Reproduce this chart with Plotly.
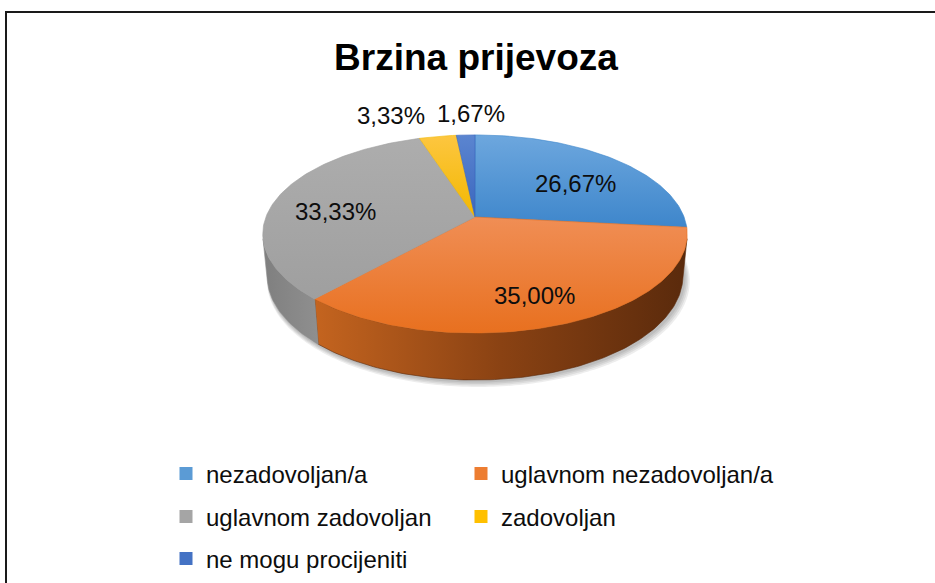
import math
import numpy as np
import plotly.graph_objects as go

# Survey answers and their shares (%)
categories = ["nezadovoljan/a", "uglavnom nezadovoljan/a", "uglavnom zadovoljan",
              "zadovoljan", "ne mogu procijeniti"]
shares = [26.67, 35.00, 33.33, 3.33, 1.67]

# Colours per slice: top face (upper -> lower), side face (left -> right), legend swatch
top_colors = [("#6DA7DE", "#3E86CB"), ("#F08E55", "#E8701F"), ("#ADADAD", "#9F9F9F"),
              ("#FDC640", "#F2B800"), ("#5B85D0", "#3A66BE")]
side_colors = [("#3B78B5", "#24527F"), ("#C4641F", "#8A4213", "#5A2A0C"),
               ("#7F7F7F", "#8F8F8F"), ("#C89400", "#7F5E00"), ("#2F559C", "#1F3A6E")]
legend_colors = ["#5B9BD5", "#ED7D31", "#A5A5A5", "#FFC000", "#4472C4"]

W, H = 935, 583
FONT = "Liberation Sans, Arial, sans-serif"

# Perspective geometry of the 3-D pie (pixels and radius units)
CX, APEX_Y = 475.0, 217.0
ELEV = math.asin(0.46)
DIST = 5.17
FOCAL = 1081.0
THICK = 0.227


def project(t, r=1.0, h=0.0):
    """Angle t (clockwise from 12 o'clock), radius fraction r, depth h below the top face."""
    X = r * math.sin(t)
    Z = r * math.cos(t)
    Y = -h
    depth = DIST + Z * math.cos(ELEV) - Y * math.sin(ELEV)
    up = Y * math.cos(ELEV) + Z * math.sin(ELEV)
    sx = CX + FOCAL * X / depth
    sy = APEX_Y - FOCAL * up / depth
    return sx, H - sy


def arc(t0, t1, r=1.0, h=0.0):
    n = max(6, int(abs(t1 - t0) / math.radians(1.0)))
    pts = [project(t, r, h) for t in np.linspace(t0, t1, n)]
    return [p[0] for p in pts], [p[1] for p in pts]


def scale(colors):
    n = len(colors)
    return [[i / (n - 1), c] for i, c in enumerate(colors)]


total = sum(shares)
bounds = np.concatenate([[0.0], np.cumsum(shares) / total * 2 * math.pi])

# visible part of the cylinder wall
t_sil = math.acos(-1.0 / (DIST * math.cos(ELEV)))
vis0, vis1 = t_sil, 2 * math.pi - t_sil

fig = go.Figure()

# soft drop shadow under the pie
for k in range(1, 5):
    xs, ys = arc(0, 2 * math.pi, 1.0 + 0.004 * k, THICK)
    fig.add_trace(go.Scatter(
        x=[x + 1.0 + 0.6 * k for x in xs], y=[y - 1.0 - 0.9 * k for y in ys],
        fill="toself", mode="none", fillcolor="rgba(0,0,0,0.07)",
        hoverinfo="skip", showlegend=False))

# side walls
for i in range(len(shares)):
    lo, hi = max(bounds[i], vis0), min(bounds[i + 1], vis1)
    if hi <= lo:
        continue
    tx, ty = arc(lo, hi, 1.0, 0.0)
    bx, by = arc(hi, lo, 1.0, THICK)
    fig.add_trace(go.Scatter(
        x=tx + bx + [tx[0]], y=ty + by + [ty[0]],
        fill="toself", mode="lines", line=dict(width=0.6, color=side_colors[i][-1]),
        fillgradient=dict(type="horizontal", colorscale=scale(side_colors[i])),
        hoverinfo="skip", showlegend=False))

# top faces
for i in range(len(shares)):
    ax, ay = project(0, 0.0)
    tx, ty = arc(bounds[i], bounds[i + 1])
    fig.add_trace(go.Scatter(
        x=[ax] + tx + [ax], y=[ay] + ty + [ay],
        fill="toself", mode="lines", line=dict(width=0.6, color=top_colors[i][1]),
        fillgradient=dict(type="vertical",
                          colorscale=[[0, top_colors[i][1]], [1, top_colors[i][0]]]),
        name=categories[i], hoverinfo="skip", showlegend=False))

# percentage labels: large slices inside, small ones outside side by side
outside = [i for i in range(len(shares)) if shares[i] / total < 0.1]
annotations = []
prev_right = None
for i, v in enumerate(shares):
    mid = (bounds[i] + bounds[i + 1]) / 2
    text = f"{v:.2f}".replace(".", ",") + "%"
    if i in outside:
        lx, ly = project(mid, 1.35)
        if prev_right is None:
            anchor = "right"
            prev_right = lx
        else:
            anchor = "left"
            lx = prev_right + 8
        shift = -2
    else:
        lx, ly = project(mid, 0.7)
        anchor = "center"
        shift = -8
    annotations.append(dict(
        x=lx, y=ly, xref="x", yref="y", text=text,
        showarrow=False, xanchor=anchor, yanchor="middle", yshift=shift,
        font=dict(family=FONT, size=24, color="#0D0D0D")))

# legend: one small legend per entry, laid out in two columns
legend_names = ["legend", "legend2", "legend3", "legend4", "legend5"]
col_x = [166, 461]
row_y = [474, 517, 559]
legend_layout = {}
for i, cat in enumerate(categories):
    fig.add_trace(go.Scatter(
        x=[None], y=[None], mode="markers", name=cat, legend=legend_names[i],
        marker=dict(symbol="square", size=13, color=legend_colors[i])))
    legend_layout[legend_names[i]] = dict(
        orientation="h", x=col_x[i % 2] / W, xanchor="left",
        y=1 - row_y[i // 2] / H, yanchor="middle", bgcolor="rgba(0,0,0,0)",
        font=dict(family=FONT, size=24, color="#0D0D0D"))

fig.update_layout(
    width=W, height=H,
    margin=dict(l=0, r=0, t=0, b=0),
    paper_bgcolor="white", plot_bgcolor="white",
    xaxis=dict(range=[0, W], visible=False, fixedrange=True),
    yaxis=dict(range=[0, H], visible=False, fixedrange=True),
    title=dict(text="<b>Brzina prijevoza</b>", x=476 / W, xanchor="center",
               y=1 - 57 / H, yanchor="middle", xref="paper", yref="paper",
               font=dict(family=FONT, size=37, color="#000000")),
    annotations=annotations,
    shapes=[dict(type="rect", xref="paper", yref="paper",
                 x0=6 / W, x1=1.05, y0=-0.05, y1=1 - 12 / H,
                 line=dict(color="#1A1A1A", width=2), fillcolor="rgba(0,0,0,0)")],
    **legend_layout,
)

fig.write_html("out.html")
